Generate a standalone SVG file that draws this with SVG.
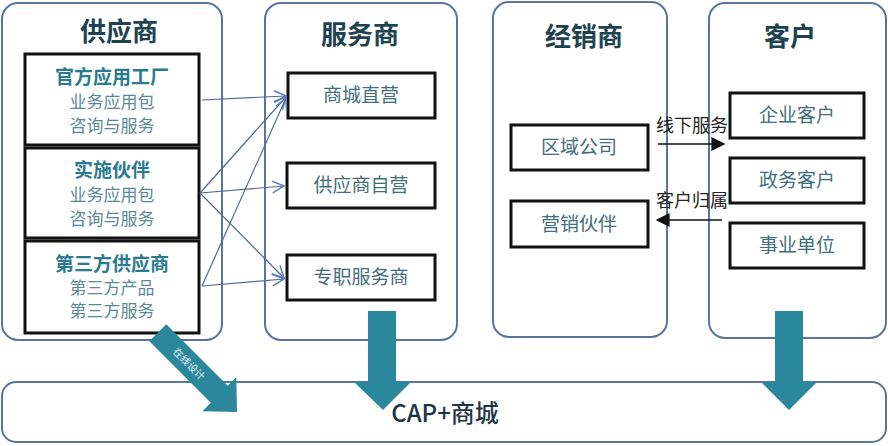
<svg xmlns="http://www.w3.org/2000/svg" width="888" height="446" viewBox="0 0 888 446">
<defs>
<style>
text{font-family:"Noto Sans CJK SC","Noto Sans",sans-serif;text-anchor:middle}
.panel{fill:#ffffff;stroke:#5a74a0;stroke-width:2}
.box{fill:#ffffff;stroke:#111111;stroke-width:3}
.title{font-size:26px;font-weight:bold;fill:#1e4350}
.sub{font-size:19px;font-weight:bold;fill:#2a7a90}
.item{font-size:17px;fill:#5a8a98}
.svc{font-size:19px;fill:#3f6e7c}
.big{fill:#2b879c}
.conn{stroke:#4d6a94;stroke-width:1.2;fill:none;marker-end:url(#open)}
.lbl{font-size:18px;fill:#222222;text-anchor:start}
</style>
<marker id="open" viewBox="0 0 12 12" refX="11" refY="6" markerWidth="14" markerHeight="14" markerUnits="userSpaceOnUse" orient="auto">
<path d="M1,1 L11,6 L1,11" fill="none" stroke="#5b7cc4" stroke-width="1.3"/>
</marker>
<marker id="solid" viewBox="0 0 10 10" refX="9" refY="5" markerWidth="16" markerHeight="14" markerUnits="userSpaceOnUse" orient="auto">
<path d="M0,0 L10,5 L0,10 Z" fill="#111111"/>
</marker>
</defs>
<rect width="888" height="446" fill="#ffffff"/>

<g id="supplier">
<rect class="panel" x="2" y="3" width="220" height="337" rx="16"/>
<text class="title" x="119" y="41">供应商</text>
</g>
<g id="service">
<rect class="panel" x="265" y="3" width="192" height="337" rx="16"/>
<text class="title" x="360" y="44">服务商</text>
</g>
<g id="dealer">
<rect class="panel" x="493" y="2" width="174" height="335" rx="16"/>
<text class="title" x="584" y="46">经销商</text>
</g>
<g id="customer">
<rect class="panel" x="709" y="3" width="177" height="335" rx="16"/>
<text class="title" x="790" y="46">客户</text>
</g>
<g id="cap">
<rect class="panel" x="2" y="382" width="884" height="60" rx="14"/>
<text x="445" y="422" style="font-size:24px;fill:#1d3542;font-weight:500">CAP+商城</text>
</g>

<g id="official">
<rect class="box" x="25" y="54" width="174" height="91"/>
<text class="sub" x="112" y="84">官方应用工厂</text>
<text class="item" x="112" y="108">业务应用包</text>
<text class="item" x="112" y="132">咨询与服务</text>
</g>
<g id="partner">
<rect class="box" x="25" y="148" width="174" height="90"/>
<text class="sub" x="112" y="177">实施伙伴</text>
<text class="item" x="112" y="201">业务应用包</text>
<text class="item" x="112" y="225">咨询与服务</text>
</g>
<g id="thirdparty">
<rect class="box" x="25" y="241" width="174" height="92"/>
<text class="sub" x="112" y="271">第三方供应商</text>
<text class="item" x="112" y="294">第三方产品</text>
<text class="item" x="112" y="317">第三方服务</text>
</g>

<g id="mall-direct">
<rect class="box" x="288" y="73" width="147" height="45"/>
<text class="svc" x="361" y="102">商城直营</text>
</g>
<g id="supplier-own">
<rect class="box" x="287" y="163" width="148" height="45"/>
<text class="svc" x="361" y="192">供应商自营</text>
</g>
<g id="dedicated">
<rect class="box" x="287" y="255" width="148" height="45"/>
<text class="svc" x="361" y="284">专职服务商</text>
</g>

<g id="regional">
<rect class="box" x="511" y="125" width="137" height="45"/>
<text class="svc" x="579" y="154">区域公司</text>
</g>
<g id="marketing">
<rect class="box" x="511" y="201" width="137" height="46"/>
<text class="svc" x="579" y="231">营销伙伴</text>
</g>

<g id="enterprise">
<rect class="box" x="730" y="93" width="134" height="45"/>
<text class="svc" x="797" y="122">企业客户</text>
</g>
<g id="government">
<rect class="box" x="730" y="158" width="134" height="45"/>
<text class="svc" x="797" y="187">政务客户</text>
</g>
<g id="institution">
<rect class="box" x="730" y="223" width="134" height="45"/>
<text class="svc" x="797" y="252">事业单位</text>
</g>

<g id="connectors">
<line class="conn" x1="202" y1="100" x2="286" y2="96"/>
<line class="conn" x1="200" y1="193" x2="286" y2="97"/>
<line class="conn" x1="200" y1="193" x2="284" y2="186"/>
<line class="conn" x1="200" y1="193" x2="284" y2="278"/>
<line class="conn" x1="202" y1="286" x2="286" y2="98"/>
<line class="conn" x1="202" y1="286" x2="284" y2="279"/>
<line x1="658" y1="144" x2="724" y2="144" stroke="#111111" stroke-width="1.5" marker-end="url(#solid)"/>
<line x1="722" y1="220" x2="657" y2="220" stroke="#111111" stroke-width="1.5" marker-end="url(#solid)"/>
<text class="lbl" x="656" y="132">线下服务</text>
<text class="lbl" x="656" y="207">客户归属</text>
<g transform="translate(237,412) rotate(45)">
<path class="big" d="M-112,-12 L-25,-12 L-25,-24 L0,0 L-25,24 L-25,12 L-112,12 Z"/>
<text x="-68" y="3.5" style="font-size:10px;fill:#e8f4f8">在线设计</text>
</g>
<path class="big" d="M368,311 L396,311 L396,382 L411,382 L383,410 L354,382 L368,382 Z"/>
<path class="big" d="M775,311 L803,311 L803,382 L817,382 L789,410 L761,382 L775,382 Z"/>
</g>
</svg>
